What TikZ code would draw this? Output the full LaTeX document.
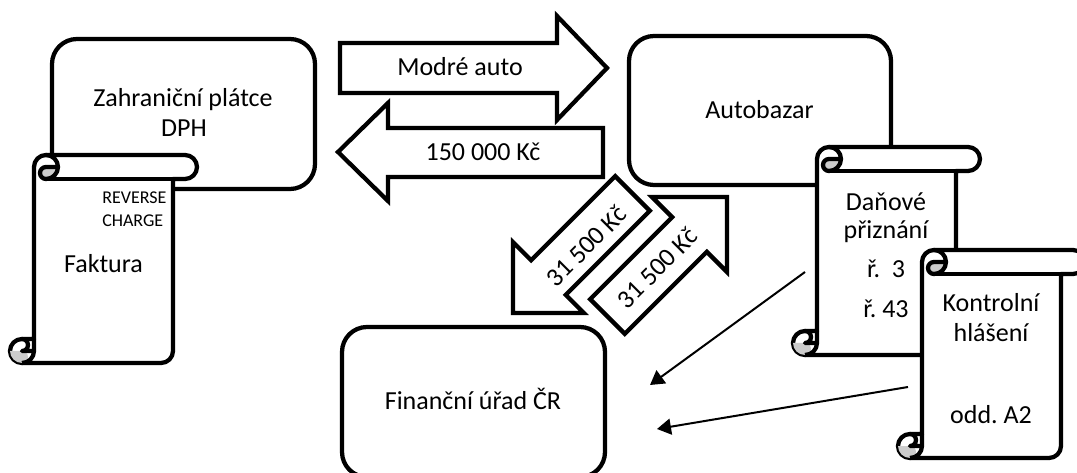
\documentclass[tikz,border=0pt]{standalone}
\usepackage{fontspec}
\setmainfont{Carlito}
\usetikzlibrary{arrows.meta}

% one unit = one pixel of a 1077 x 473 canvas, y pointing down
\tikzset{
  outline/.style={draw=black, line width=3.2pt, fill=white},
  panel/.style={outline, rounded corners=18.75pt},
  bigarrow/.style={outline, line join=miter},
  lbl/.style={inner sep=0pt, text=black, font=\fontsize{19.5}{23}\selectfont},
  smalllbl/.style={inner sep=0pt, text=black, font=\fontsize{13.5}{16}\selectfont},
  filing/.style={draw=black, line width=1.5pt, -{Triangle[length=10.5pt,width=12pt]}},
  curl/.style={fill=black!20},
}

% rolled document (vertical scroll), #1 = left, #2 = top
\newcommand\docscroll[2]{%
  \begin{scope}[shift={(#1,#2)}, line width=3.2pt, line join=round]
    \filldraw[fill=white] (24,184) -- (24,12)
      arc[start angle=180, end angle=270, radius=12] -- (175,0)
      arc[start angle=270, end angle=450, radius=12] -- (163,24) -- (163,196)
      arc[start angle=0, end angle=90, radius=12] -- (12,208)
      arc[start angle=90, end angle=270, radius=12] -- cycle;
    \fill[curl] (48,12) arc[start angle=0, end angle=90, radius=12]
      arc[start angle=90, end angle=270, radius=6] -- cycle;
    \fill[curl] (0,196) arc[start angle=180, end angle=90, radius=12]
      arc[start angle=90, end angle=-90, radius=6] -- cycle;
    \draw (36,0) arc[start angle=270, end angle=450, radius=12]
      arc[start angle=90, end angle=270, radius=6] -- (48,12);
    \draw (163,24) -- (36,24);
    \draw (12,184) arc[start angle=270, end angle=450, radius=6] -- (24,196);
    \draw (12,208) arc[start angle=90, end angle=0, radius=12] -- (24,184);
  \end{scope}}

\begin{document}
\frenchspacing
\begin{tikzpicture}[x=0.75pt, y=-0.75pt]
  \useasboundingbox (0,0) rectangle (1077,473);
  \clip (0,0) rectangle (1077,473);

  % foreign VAT payer with its invoice
  \draw[panel] (52,39) rectangle (315,189);
  \node[lbl, anchor=base] (zp1) at (183,107) {Zahraniční plátce};
  \node[lbl, anchor=base] (zp2) at (184,137) {DPH};
  \docscroll{10}{155}
  \node[smalllbl, anchor=base west] (rc1) at (102,204) {REVERSE};
  \node[smalllbl, anchor=base west] (rc2) at (102,227) {CHARGE};
  \node[lbl, anchor=base] (fak) at (103.5,273) {Faktura};

  % car dealer with its filings
  \draw[panel] (629,36) rectangle (891,185);
  \node[lbl, anchor=base] (ab) at (759.5,119) {Autobazar};
  \docscroll{793}{147}
  \node[lbl, anchor=base] (dp1) at (886,210.7) {Daňové};
  \node[lbl, anchor=base] (dp2) at (886,239) {přiznání};
  \node[lbl, anchor=base] (dp3) at (886,278) {ř.~~3};
  \node[lbl, anchor=base] (dp4) at (886,318) {ř. 43};
  \docscroll{898}{250}
  \node[lbl, anchor=base] (kh1) at (991,312) {Kontrolní};
  \node[lbl, anchor=base] (kh2) at (991,342) {hlášení};
  \node[lbl, anchor=base] (kh3) at (991,423) {odd. A2};

  % tax office
  \draw[panel] (342,327) rectangle (605,477);
  \node[lbl, anchor=base] (fu) at (473,410) {Finanční úřad ČR};

  % block arrows: goods and payment
  \draw[bigarrow] (340,43) -- (557,43) -- (557,16) -- (607,68) -- (557,120)
    -- (557,93) -- (340,93) -- cycle;
  \node[lbl, anchor=base] (car) at (460,75.7) {Modré auto};
  \draw[bigarrow] (603,128) -- (388,128) -- (388,103) -- (338,152) -- (388,201)
    -- (388,177) -- (603,177) -- cycle;
  \node[lbl, anchor=base] (pay) at (483,160.7) {150 000 Kč};

  % block arrows: VAT to and from the tax office
  \draw[bigarrow] (649.8,210.8) -- (615.2,176.2) -- (531.1,260.3) -- (513,242.2)
    -- (513,313) -- (583.8,313) -- (565.7,294.9) -- cycle;
  \node[lbl, rotate=45] (vat1) at (586,246) {31 500 Kč};
  \draw[bigarrow] (590.2,299.2) -- (624.8,333.8) -- (706.8,251.8) -- (727,272)
    -- (727,197) -- (652,197) -- (672.2,217.2) -- cycle;
  \node[lbl, rotate=45] (vat2) at (657,268) {31 500 Kč};

  % filings sent to the tax office
  \coordinate (dp-out) at (805,272);
  \coordinate (fu-in1) at (650,385);
  \coordinate (kh-out) at (908,387);
  \coordinate (fu-in2) at (657,429);
  \draw[filing] (dp-out) -- (fu-in1);
  \draw[filing] (kh-out) -- (fu-in2);
\end{tikzpicture}
\end{document}
